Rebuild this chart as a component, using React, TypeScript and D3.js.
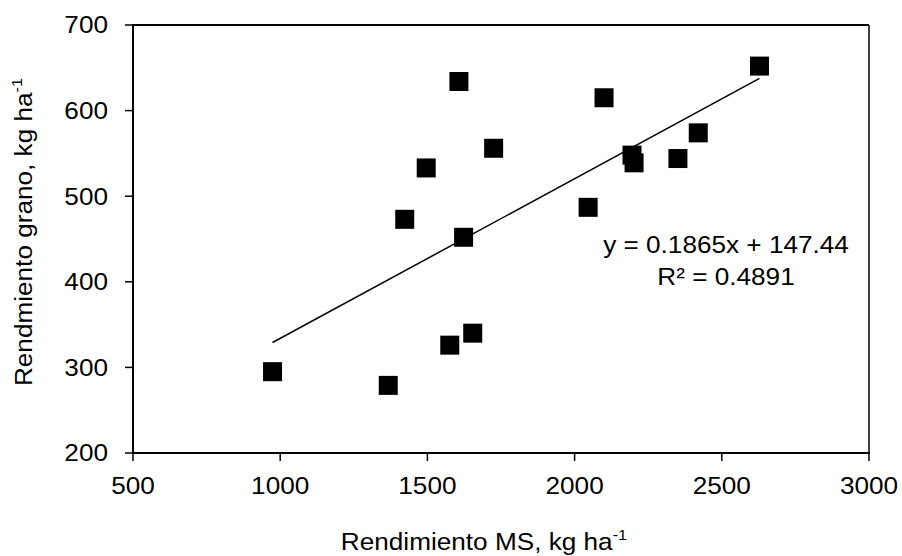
import React from "react";
import * as d3 from "d3";

const xValues = [974, 1367, 1423, 1496, 1576, 1607, 1623, 1654, 1725, 2046, 2100, 2195, 2202, 2351, 2420, 2628];
const yValues = [295, 279, 473, 533, 326, 634, 452, 340, 556, 487, 615, 548, 539, 544, 574, 652];
const xTicks = [500, 1000, 1500, 2000, 2500, 3000];
const yTicks = [200, 300, 400, 500, 600, 700];
const slope = 0.1865;
const intercept = 147.44;
const eqLine1 = "y = 0.1865x + 147.44";
const eqLine2 = "R² = 0.4891";

const W = 902;
const H = 556;
const FONT = "'Liberation Sans', Arial, sans-serif";
const SX = 1.09;

export default function App() {
  const x = d3.scaleLinear().domain([500, 3000]).range([133, 869]);
  const y = d3.scaleLinear().domain([200, 700]).range([453, 25]);
  const xMin = d3.min(xValues)!;
  const xMax = d3.max(xValues)!;
  const line = d3.line<number>().x((d) => x(d)).y((d) => y(slope * d + intercept));
  const sq = 19;

  return (
    <svg width={W} height={H} style={{ position: "absolute", left: 0, top: 0, background: "#fff" }} fontFamily={FONT}>
      {/* frame */}
      <line x1={x(500)} x2={x(3000)} y1={y(700)} y2={y(700)} stroke="#000" strokeWidth={2} />
      <line x1={x(3000)} x2={x(3000)} y1={y(700)} y2={y(200)} stroke="#000" strokeWidth={1.5} />
      <line x1={x(500)} x2={x(500)} y1={y(700) - 1} y2={y(200) + 1} stroke="#000" strokeWidth={2} />
      <line x1={x(500) - 1} x2={x(3000) + 1} y1={y(200)} y2={y(200)} stroke="#000" strokeWidth={2} />
      {/* y ticks */}
      {yTicks.map((t) => (
        <g key={"y" + t}>
          <line x1={x(500) - 8} x2={x(500)} y1={y(t)} y2={y(t)} stroke="#000" strokeWidth={1.5} />
          <text transform={`translate(108, ${y(t)}) scale(${SX},1)`} dy="0.35em" textAnchor="end" fontSize={24} fill="#000">{t}</text>
        </g>
      ))}
      {/* x ticks */}
      {xTicks.map((t) => (
        <g key={"x" + t}>
          <line x1={x(t)} x2={x(t)} y1={y(200)} y2={y(200) + 8} stroke="#000" strokeWidth={1.5} />
          <text transform={`translate(${x(t)}, 494) scale(${SX},1)`} textAnchor="middle" fontSize={24} fill="#000">{t}</text>
        </g>
      ))}
      {/* trendline */}
      <path d={line([xMin, xMax]) || ""} stroke="#000" strokeWidth={1.5} fill="none" />
      {/* points */}
      {xValues.map((xv, i) => (
        <rect key={i} x={x(xv) - sq / 2} y={y(yValues[i]) - sq / 2} width={sq} height={sq} fill="#000" />
      ))}
      {/* equation */}
      <text transform={`translate(726, 253) scale(${SX},1)`} textAnchor="middle" fontSize={24} fill="#000">{eqLine1}</text>
      <text transform={`translate(726, 285) scale(${SX},1)`} textAnchor="middle" fontSize={24} fill="#000">{eqLine2}</text>
      {/* axis titles */}
      <text transform={`translate(484, 550) scale(${SX},1)`} textAnchor="middle" fontSize={24} fill="#000">
        Rendimiento MS, kg ha<tspan fontSize={15} dy={-10}>-1</tspan>
      </text>
      <text transform={`translate(32, 232) rotate(-90) scale(${SX},1)`} textAnchor="middle" fontSize={24} fill="#000">
        Rendmiento grano, kg ha<tspan fontSize={15} dy={-10}>-1</tspan>
      </text>
    </svg>
  );
}
